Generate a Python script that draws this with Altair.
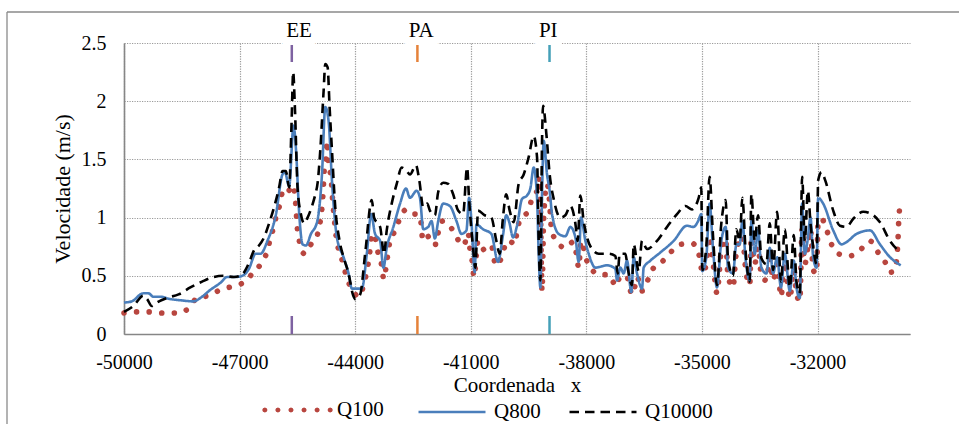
import altair as alt
import pandas as pd

# ---------------- data ----------------
q100_x = [-50000, -49650, -49300, -48974, -48626, -48322, -48104, -47800, -47496, -47174,
          -46861, -46643, -46452, -46296, -46209, -46122, -46035, -45948, -45870, -45757,
          -45620, -45539, -45496, -45322, -45130, -44974, -44905, -44860, -44836, -44802,
          -44750, -44733, -44690, -44629, -44578, -44550, -44517, -44474, -44388, -44302,
          -44215, -44086, -43914, -43828, -43741, -43681, -43630, -43569, -43483, -43400,
          -43353, -43250, -43200, -43095, -42940, -42836, -42664, -42492, -42363, -42276,
          -42250, -42078, -41974, -41888, -41845, -41733, -41543, -41371, -41181, -41069,
          -41026, -40966, -40914, -40811, -40638, -40466, -40354, -40250, -40164, -40059,
          -39950, -39842, -39800, -39696, -39497, -39410, -39280, -39210, -39150, -39107,
          -39020, -38952, -38908, -38778, -38545, -38346, -38260, -38199, -38138, -38000,
          -37853, -37637, -37420, -37222, -37118, -36945, -36875, -36789, -36685, -36555,
          -36296, -36036, -35820, -35561, -35258, -35059,
          -34991, -34887, -34801, -34714, -34610, -34497, -34384, -34324, -34194, -34107,
          -33951, -33864, -33760, -33717, -33630, -33543, -33457, -33327, -33240, -33153,
          -33049, -32949, -32850, -32720, -32616, -32546, -32460, -32399, -32330, -32250,
          -32182, -32113, -32026, -31983, -31896,
          -31749, -31636, -31463, -31177, -30899, -30639, -30448, -30249, -30119, -30015,
          -29945, -29920, -29905, -29893, -29867]
q100_y = [0.18, 0.19, 0.19, 0.18, 0.18, 0.22, 0.31, 0.33, 0.38, 0.41,
          0.45, 0.53, 0.60, 0.70, 0.81, 0.91, 1.03, 1.12, 1.24, 1.22,
          1.28, 1.10, 0.89, 0.69, 0.78, 0.86, 0.97, 1.09, 1.20, 1.42,
          1.53, 1.66, 1.45, 1.35, 1.12, 1.02, 0.90, 0.79, 0.69, 0.59,
          0.48, 0.39, 0.32, 0.37, 0.47, 0.57, 0.67, 0.86, 0.83, 0.69,
          0.66, 0.47, 0.57, 0.80, 0.90, 1.00, 1.07, 1.03, 1.03, 0.92,
          0.80, 0.84, 0.77, 0.77, 0.87, 0.97, 0.93, 0.83, 0.76, 0.87,
          0.74, 0.63, 0.49, 0.80, 0.72, 0.76, 0.59, 0.62, 0.70, 0.80,
          0.79, 0.77, 0.89, 0.99, 1.06, 1.17, 1.23, 1.35, 0.37, 1.00,
          1.29, 1.12, 0.90, 0.80, 0.74, 0.79, 0.69, 0.57, 0.80, 0.64,
          0.55, 0.51, 0.51, 0.41, 0.50, 0.49, 0.39, 0.34, 0.49, 0.37,
          0.55, 0.62, 0.70, 0.77, 0.78, 0.66,
          0.52, 0.60, 0.84, 0.62, 0.35, 0.72, 0.82, 0.50, 0.40, 0.70,
          0.84, 0.55, 0.42, 0.84, 0.60, 0.75, 0.50, 0.46, 0.65, 0.46,
          0.60, 0.32, 0.62, 0.30, 0.55, 0.35, 0.28, 0.90, 0.60, 0.75,
          0.90, 0.55, 0.52, 0.97, 0.99,
          0.88, 0.77, 0.69, 0.67, 0.72, 0.80, 0.71, 0.62, 0.53, 0.54,
          0.64, 0.76, 0.86, 0.97, 1.08]

q800_x = [-50000, -49800, -49500, -49370, -49235, -49061, -48800, -48539, -48191, -48017,
          -47756, -47496, -47322, -47104, -46930, -46757, -46583, -46452, -46278, -46061,
          -45887, -45826, -45713, -45600, -45539, -45452, -45365, -45278, -45148, -44991,
          -44862, -44776, -44690, -44603, -44474, -44302, -44172, -44086, -43957, -43828,
          -43698, -43586, -43483, -43353, -43267, -43181, -43009, -42836, -42681, -42578,
          -42405, -42319, -42233, -42104, -42018, -41931, -41845, -41716, -41543, -41371,
          -41242, -41112, -41043, -40983, -40897, -40854, -40681, -40466, -40293, -40164,
          -40080, -40000, -39903, -39800, -39670, -39540, -39454, -39367, -39280, -39237,
          -39194, -39150, -39107, -39020, -38952, -38891, -38718, -38545, -38415, -38285,
          -38199, -38138, -38026, -37939, -37766, -37464, -37247, -37204, -37118, -37031,
          -36945, -36832, -36772, -36685, -36555, -36512, -36339, -36080, -35734, -35388,
          -35215, -35100, -35017,
          -34991, -34887, -34801, -34714, -34610, -34497, -34384, -34324, -34194, -34107,
          -34020, -33951, -33864, -33760, -33717, -33630, -33543, -33457, -33327, -33240,
          -33153, -33049, -32949, -32850, -32720, -32616, -32546, -32460, -32399, -32330,
          -32260, -32182, -32113, -32026, -31983,
          -31853, -31593, -31376, -31246, -30986, -30639, -30379, -30119, -29841]
q800_y = [0.27, 0.28, 0.35, 0.35, 0.32, 0.32, 0.30, 0.29, 0.28, 0.31,
          0.38, 0.44, 0.49, 0.49, 0.50, 0.56, 0.69, 0.69, 0.80, 1.02,
          1.37, 1.39, 1.27, 1.79, 1.60, 1.03, 0.77, 0.76, 0.86, 0.96,
          1.37, 1.95, 1.83, 1.32, 0.83, 0.66, 0.52, 0.39, 0.39, 0.39,
          0.69, 1.03, 0.86, 0.80, 0.57, 0.74, 0.92, 1.12, 1.25, 1.17,
          1.23, 1.17, 0.90, 0.92, 0.97, 0.82, 0.97, 1.12, 1.10, 0.97,
          0.86, 0.89, 1.17, 0.97, 0.53, 0.94, 0.90, 0.86, 0.62, 0.85,
          1.02, 0.96, 0.83, 0.93, 1.16, 1.19, 1.25, 1.43, 1.17, 0.69,
          0.40, 1.20, 1.66, 1.37, 1.23, 1.03, 0.86, 0.84, 0.92, 0.83,
          0.62, 1.00, 0.80, 0.69, 0.57, 0.59, 0.56, 0.46, 0.57, 0.52,
          0.63, 0.36, 0.66, 0.52, 0.39, 0.57, 0.63, 0.70, 0.80, 0.93,
          0.92, 0.97, 1.03,
          0.54, 0.66, 1.12, 0.74, 0.40, 0.80, 0.92, 0.57, 0.52, 0.77,
          0.77, 0.97, 0.63, 0.46, 0.97, 0.69, 0.89, 0.57, 0.52, 0.74,
          0.52, 0.66, 0.40, 0.69, 0.37, 0.63, 0.40, 0.31, 1.12, 0.69,
          0.80, 1.00, 0.66, 0.57, 1.17,
          1.12, 0.89, 0.77, 0.79, 0.86, 0.89, 0.77, 0.66, 0.59]

q10000_x = [-50000, -49757, -49496, -49400, -49278, -49148, -48887, -48583, -48278, -47974,
            -47670, -47409, -47148, -46974, -46757, -46626, -46496, -46365, -46235, -46104,
            -45974, -45887, -45800, -45713, -45652, -45609, -45565, -45496, -45409, -45322,
            -45235, -45120, -45034, -44974, -44905, -44819, -44776, -44715, -44664, -44603,
            -44517, -44405, -44302, -44172, -44060, -44000, -43870, -43741, -43569, -43509,
            -43353, -43250, -43181, -43052, -42922, -42793, -42664, -42578, -42422, -42336,
            -42233, -42130, -42060, -41931, -41845, -41716, -41586, -41457, -41328, -41199,
            -41095, -41043, -40940, -40880, -40811, -40638, -40466, -40336, -40250, -40164,
            -40080, -39990, -39886, -39756, -39626, -39497, -39367, -39280, -39237, -39194,
            -39150, -39124, -39038, -38952, -38848, -38675, -38545, -38415, -38285, -38225,
            -38156, -38070, -37983, -37853, -37680, -37420, -37247, -37187, -37135, -36988,
            -36928, -36815, -36772, -36642, -36555, -36426, -36166, -35907, -35647, -35431,
            -35258, -35085, -35017,
            -34991, -34887, -34801, -34714, -34610, -34497, -34384, -34324, -34194, -34107,
            -34020, -33951, -33864, -33760, -33717, -33630, -33543, -33457, -33327, -33240,
            -33153, -33049, -32949, -32850, -32720, -32616, -32546, -32460, -32399, -32330,
            -32250, -32182, -32113, -32026, -31983, -31896,
            -31800, -31593, -31420, -31246, -31073, -30812, -30596, -30379, -30119, -29945,
            -29841]
q10000_y = [0.19, 0.24, 0.33, 0.30, 0.24, 0.27, 0.31, 0.34, 0.40, 0.45,
            0.49, 0.50, 0.49, 0.50, 0.61, 0.72, 0.76, 0.83, 0.95, 1.09,
            1.26, 1.40, 1.40, 1.26, 1.80, 2.25, 1.95, 1.26, 1.03, 0.95,
            1.00, 1.10, 1.20, 1.30, 1.58, 2.09, 2.32, 2.29, 1.95, 1.58,
            1.09, 0.80, 0.66, 0.52, 0.34, 0.30, 0.34, 0.69, 1.15, 1.00,
            0.92, 0.69, 0.89, 1.12, 1.29, 1.43, 1.40, 1.37, 1.45, 1.32,
            1.09, 1.12, 1.06, 1.02, 1.22, 1.30, 1.29, 1.20, 1.06, 1.03,
            1.43, 1.15, 0.74, 0.57, 1.06, 1.02, 1.00, 0.80, 0.69, 1.00,
            1.20, 1.06, 0.96, 1.29, 1.37, 1.52, 1.70, 1.52, 0.80, 0.46,
            1.66, 1.96, 1.72, 1.37, 1.16, 1.00, 1.02, 1.10, 0.95, 0.80,
            1.19, 0.97, 0.83, 0.73, 0.69, 0.69, 0.67, 0.52, 0.69, 0.69,
            0.57, 0.42, 0.77, 0.54, 0.80, 0.73, 0.80, 0.92, 1.03, 1.10,
            1.07, 1.17, 1.26,
            0.55, 0.75, 1.35, 0.85, 0.42, 0.95, 1.15, 0.65, 0.50, 0.90,
            0.80, 1.17, 0.70, 0.45, 1.20, 0.80, 1.02, 0.65, 0.60, 0.95,
            0.55, 1.05, 0.45, 0.90, 0.40, 0.85, 0.45, 0.35, 1.35, 0.80,
            1.23, 0.95, 0.75, 0.60, 1.32, 1.39,
            1.32, 1.06, 0.93, 0.92, 0.99, 1.05, 1.03, 0.96, 0.80, 0.73,
            0.70]

series_names = ["Q100", "Q800", "Q10000"]
series_colors = ["#b8463f", "#4a7ebb", "#000000"]

marker_names = ["EE", "PA", "PI"]
marker_x = [-45645, -42385, -38956]
label_x = [-45455, -42287, -38989]
marker_colors = ["#7e62a1", "#e5823a", "#45a0b8"]

x_ticks = [-50000, -47000, -44000, -41000, -38000, -35000, -32000]
y_ticks = [0, 0.5, 1, 1.5, 2, 2.5]
x_domain = [-50000, -29600]
y_domain = [0, 2.5]

# ---------------- tables ----------------
red_df = pd.DataFrame({"x": q100_x, "y": q100_y, "series": "Q100",
                       "i": range(len(q100_x))})
bb_df = pd.concat([
    pd.DataFrame({"x": q800_x, "y": q800_y, "series": "Q800", "i": range(len(q800_x))}),
    pd.DataFrame({"x": q10000_x, "y": q10000_y, "series": "Q10000", "i": range(len(q10000_x))}),
], ignore_index=True)
mk_df = pd.DataFrame({"x": marker_x, "name": marker_names})
lb_df = pd.DataFrame({"x": label_x, "name": marker_names})
frame_df = pd.DataFrame({"k": [0]})

FONT = "Liberation Serif"
GRID = dict(grid=True, gridDash=[1.2, 1.3], gridColor="#9b9b9b", gridWidth=1.2,
            domainColor="#868686", domainWidth=1.6, ticks=False,
            labelFont=FONT, labelFontSize=20, labelColor="black",
            titleFont=FONT, titleFontWeight="normal", titleColor="black")

x_enc = alt.X("x:Q", scale=alt.Scale(domain=x_domain, nice=False, zero=False),
              axis=alt.Axis(values=x_ticks, labelExpr="datum.value + ''",
                            labelFlush=False, labelPadding=18, labelOverlap=False,
                            title="Coordenada\u00a0\u00a0\u00a0x", titleFontSize=21,
                            titleY=57, titleBaseline="alphabetic", **GRID))
y_enc = alt.Y("y:Q", scale=alt.Scale(domain=y_domain, nice=False, zero=True),
              axis=alt.Axis(values=y_ticks, labelExpr="datum.value + ''",
                            labelPadding=18, title="Velocidade (m/s)", titleFontSize=22,
                            titleX=-62, titleY=145.5, titleBaseline="middle",
                            titleAlign="center", **GRID))

# legend symbol for Q100: a row of small filled octagons (= round dots)
ro = 0.078
octagon = [(1.0, 0.0), (0.707, 0.707), (0.0, 1.0), (-0.707, 0.707),
           (-1.0, 0.0), (-0.707, -0.707), (0.0, -1.0), (0.707, -0.707)]
dot_centres = [-0.93 + k * 0.39 for k in range(6)]
dot_path = "".join(
    "M" + "L".join(f"{c + ro * a:.4f},{ro * b:.4f}" for a, b in octagon) + "Z"
    for c in dot_centres)

legend_a = alt.Legend(orient="none", legendX=138, legendY=333, direction="horizontal",
                      title=None, symbolType=dot_path, symbolSize=4489,
                      symbolStrokeWidth=0.5, symbolDash=[1, 0],
                      symbolFillColor=series_colors[0],
                      labelFont=FONT, labelFontSize=21,
                      labelColor="black", labelOffset=7, padding=0)
legend_b = alt.Legend(orient="none", legendX=293, legendY=334, direction="horizontal",
                      title=None, symbolType="stroke", symbolSize=4489,
                      symbolStrokeWidth=2.6,
                      labelFont=FONT, labelFontSize=21, labelColor="black",
                      labelOffset=7, columnPadding=23, padding=0)

red_line = alt.Chart(red_df).mark_line(strokeCap="round", strokeWidth=5.6,
                                        interpolate="monotone").encode(
    x=x_enc, y=y_enc, order="i:Q",
    color=alt.Color("series:N", scale=alt.Scale(domain=series_names[:1],
                                                range=series_colors[:1]), legend=legend_a),
    strokeDash=alt.StrokeDash("series:N", scale=alt.Scale(domain=series_names[:1],
                                                          range=[[0.01, 12.6]]), legend=None),
)

bb_lines = alt.Chart(bb_df).mark_line(interpolate="monotone", strokeWidth=2.6).encode(
    x=x_enc, y=y_enc, order="i:Q",
    color=alt.Color("series:N", scale=alt.Scale(domain=series_names[1:],
                                                range=series_colors[1:]), legend=legend_b),
    strokeDash=alt.StrokeDash("series:N", scale=alt.Scale(domain=series_names[1:],
                                                          range=[[1, 0], [9.5, 6]]),
                              legend=legend_b),
)

mk_stroke = alt.Stroke("name:N", scale=alt.Scale(domain=marker_names, range=marker_colors),
                       legend=None)
marker_top = alt.Chart(mk_df).mark_rule(strokeWidth=2.5).encode(
    x=x_enc, y=alt.value(2), y2=alt.value(19), stroke=mk_stroke)
marker_bottom = alt.Chart(mk_df).mark_rule(strokeWidth=2.5).encode(
    x=x_enc, y=alt.value(273), y2=alt.value(291), stroke=mk_stroke)

label_halo = alt.Chart(lb_df).mark_text(font=FONT, fontSize=21, baseline="alphabetic",
                                        fill="white", stroke="white", strokeWidth=16,
                                        strokeJoin="round").encode(
    x=x_enc, y=alt.value(-6), text="name:N")
label_text = alt.Chart(lb_df).mark_text(font=FONT, fontSize=21, baseline="alphabetic",
                                        color="black").encode(
    x=x_enc, y=alt.value(-6), text="name:N")

frame_left = alt.Chart(frame_df).mark_rule(color="#8a8a8a", strokeWidth=1.3).encode(
    x=alt.value(-117), y=alt.value(-31), y2=alt.value(400))
frame_top = alt.Chart(frame_df).mark_rule(color="#8a8a8a", strokeWidth=1.3).encode(
    x=alt.value(-117), x2=alt.value(850), y=alt.value(-31))

chart = alt.layer(
    red_line, bb_lines, marker_top, marker_bottom, label_halo, label_text,
    frame_left, frame_top,
).resolve_scale(
    color="independent", strokeDash="independent"
).properties(
    width=786, height=291,
    autosize=alt.AutoSizeParams(type="none"),
    padding={"left": 124, "top": 43, "right": 49, "bottom": 90},
).configure(
    font=FONT
).configure_axis(
    labelFont=FONT, titleFont=FONT, labelColor="black", titleColor="black",
    titleFontWeight="normal"
).configure_legend(
    labelFont=FONT, titleFont=FONT
).configure_text(
    font=FONT
).configure_view(
    stroke=None
)

chart.save("out.html", embed_options={"renderer": "svg", "actions": False})
